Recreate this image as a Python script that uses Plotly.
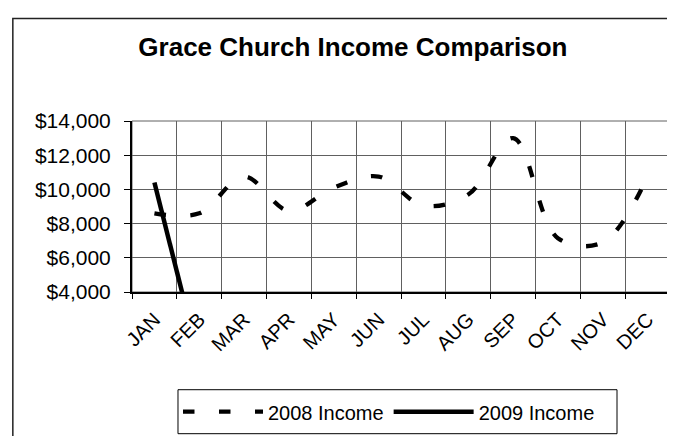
import plotly.graph_objects as go

months = ["JAN", "FEB", "MAR", "APR", "MAY", "JUN", "JUL", "AUG", "SEP", "OCT", "NOV", "DEC"]
income_2008 = [8600, 8600, 10750, 8750, 10100, 10750, 9050, 9700, 13000, 7150, 6900, 10750]
income_2009 = [10400, 0, None, None, None, None, None, None, None, None, None, None]
y_ticks = [4000, 6000, 8000, 10000, 12000, 14000]
y_tick_labels = ["$4,000", "$6,000", "$8,000", "$10,000", "$12,000", "$14,000"]

FONT = "Liberation Sans, Arial, sans-serif"

fig = go.Figure()
fig.add_trace(go.Scatter(
    x=months, y=income_2008, name="2008 Income", mode="lines",
    line=dict(color="black", width=4.3, dash="11.5px,24.5px", shape="spline", smoothing=1),
))
fig.add_trace(go.Scatter(
    x=months, y=income_2009, name="2009 Income", mode="lines",
    line=dict(color="black", width=4.5),
))

# outer chart border (cropped on right/bottom)
fig.add_shape(type="rect", xref="paper", yref="paper",
              x0=-0.2215, x1=1.2, y0=-1.2, y1=1.6,
              line=dict(color="#222", width=1.5), fillcolor="rgba(0,0,0,0)", layer="below")
# plot-area edge
fig.add_shape(type="rect", xref="paper", yref="paper", x0=0, x1=1, y0=0, y1=1,
              line=dict(color="#606060", width=1), fillcolor="rgba(0,0,0,0)", layer="below")
# legend frame
fig.add_shape(type="rect", xref="paper", yref="paper",
              x0=0.0855, x1=0.9015, y0=-0.8286, y1=-0.5714,
              line=dict(color="black", width=1), fillcolor="white", layer="below")

fig.update_layout(
    width=675, height=436,
    margin=dict(l=124, r=13, t=113, b=148),
    paper_bgcolor="white", plot_bgcolor="white",
    font=dict(family=FONT, size=20, color="black"),
    title=dict(text="Grace Church Income Comparison", x=0.511, xref="container",
               xanchor="center", y=1 - 39 / 436, yref="container", yanchor="middle",
               font=dict(family=FONT, size=26, color="black", weight="bold")),
    showlegend=True,
    legend=dict(orientation="h", x=0.0855, xanchor="left", y=-0.70, yanchor="middle",
                borderwidth=0, bgcolor="rgba(0,0,0,0)",
                font=dict(family=FONT, size=20), itemwidth=80, tracegroupgap=0),
)
fig.update_xaxes(
    type="category", range=[-0.5, 11.5], tickson="boundaries", ticks="outside", ticklen=5,
    tickcolor="black", tickangle=-45, showgrid=True, gridcolor="#606060", gridwidth=1,
    showline=True, linecolor="black", linewidth=2, ticklabelstandoff=6,
    tickfont=dict(family=FONT, size=20, color="black"),
)
fig.update_yaxes(
    range=[4000, 14000], tickvals=y_ticks, ticktext=y_tick_labels,
    ticks="outside", ticklen=6, tickcolor="black", showgrid=True, gridcolor="#606060",
    gridwidth=1, showline=True, linecolor="black", linewidth=2, zeroline=False,
    ticklabelstandoff=9, tickfont=dict(family=FONT, size=21, color="black"),
)

fig.write_html("out.html")
